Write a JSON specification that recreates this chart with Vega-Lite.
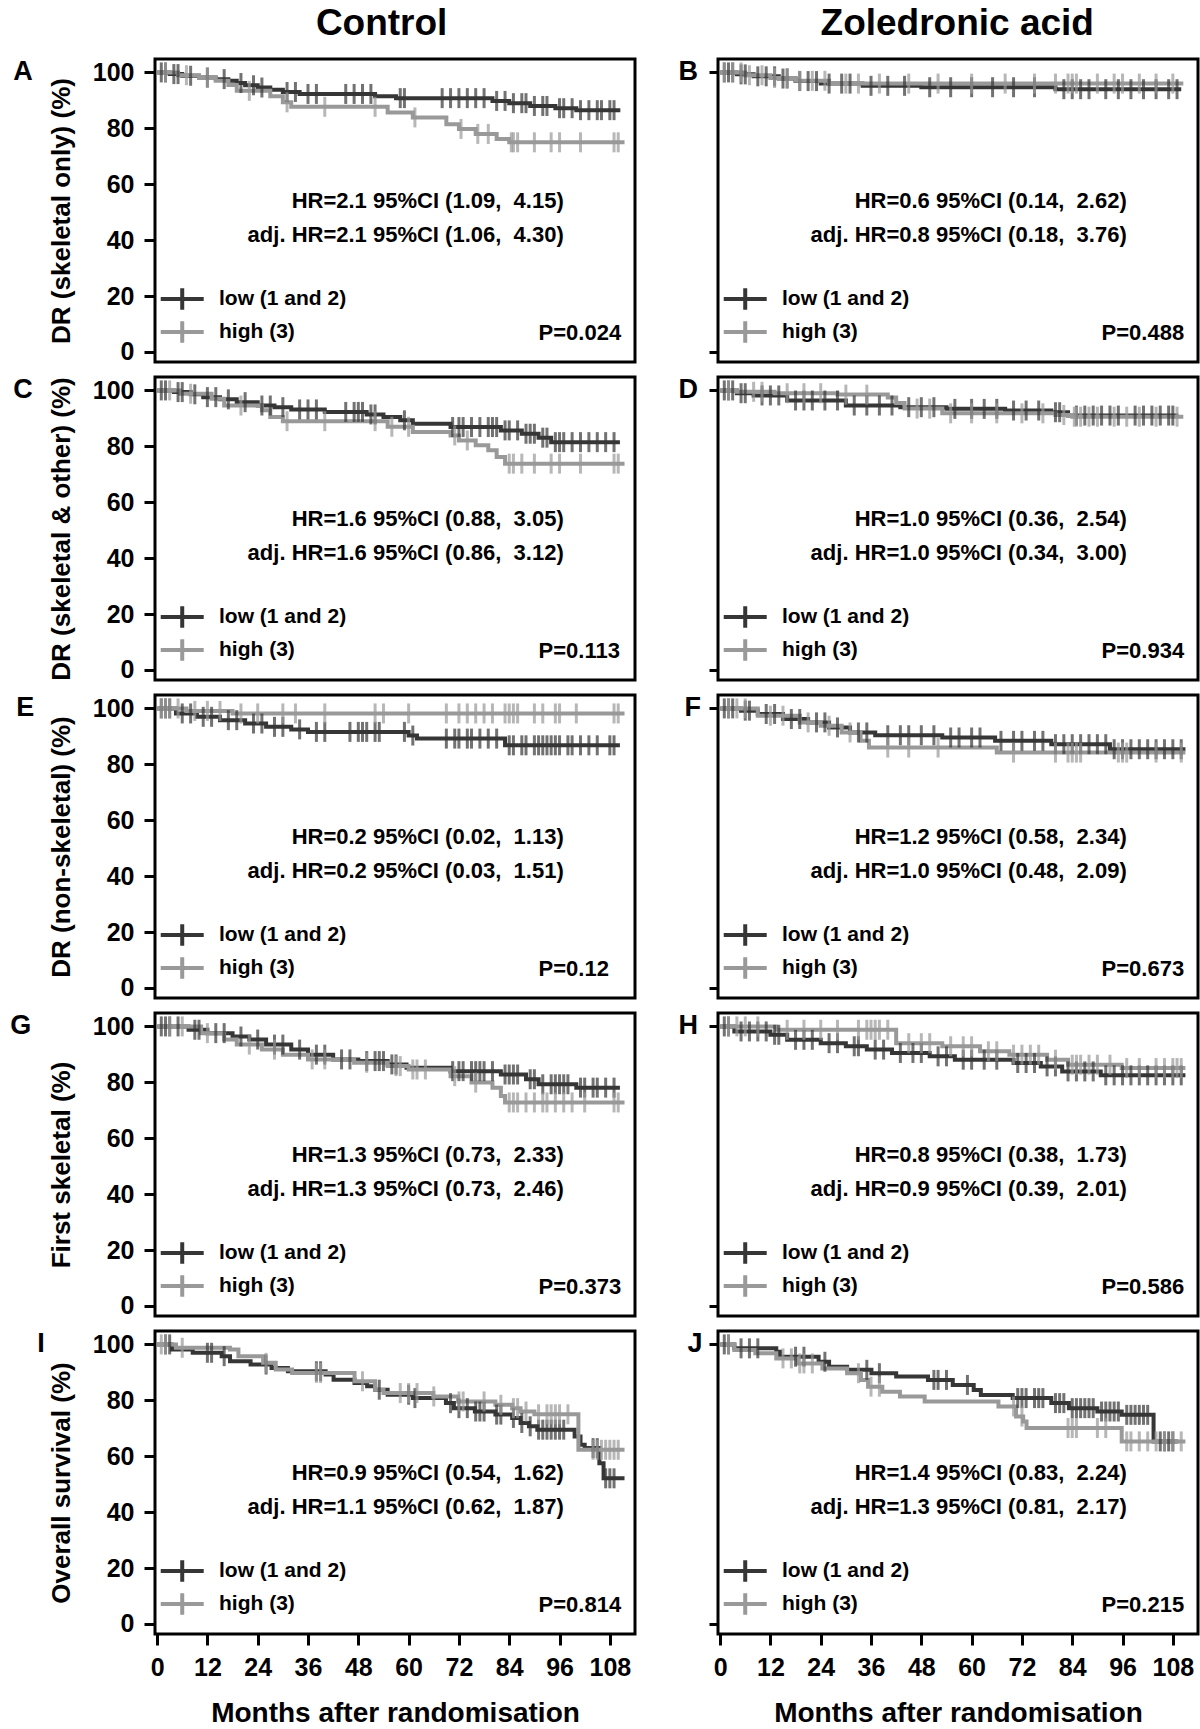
{
"$schema":"https://vega.github.io/schema/vega-lite/v6.json",
"background":"white",
"padding":{"left":8,"top":4,"right":4,"bottom":4},
"config":{
 "font":"Liberation Sans",
 "view":{"stroke":"black","strokeWidth":3},
 "axis":{"domain":false,"grid":false,"tickColor":"black","tickWidth":3,"tickSize":11,"labelFont":"Liberation Sans","labelFontSize":25,"labelFontWeight":"bold","labelColor":"black","labelPadding":10,"titleFont":"Liberation Sans","titleFontSize":26,"titleFontWeight":"bold","titleColor":"black","titlePadding":18},
 "axisX":{"labelPadding":10,"titleFontSize":28,"titlePadding":19},
 "legend":{"orient":"bottom-left","offset":11,"padding":0,"symbolType":"M-1.7,0H2.3M0.3,-1V1","symbolSize":462,"symbolStrokeWidth":4,"labelFont":"Liberation Sans","labelFontSize":21,"labelFontWeight":"bold","labelColor":"black","labelOffset":27,"rowPadding":-5},
 "title":{"orient":"left","anchor":"end","angle":0,"align":"right","baseline":"middle","fontSize":27,"fontWeight":"bold","font":"Liberation Sans","color":"black","offset":-4,"dy":0},
 "line":{"interpolate":"step-after","strokeWidth":4}
},
"datasets":{
"ann":[
{"p":"A","hr":"HR=2.1 95%CI (1.09, \u00a04.15)","adj":"adj. HR=2.1 95%CI (1.06, \u00a04.30)","pv":"P=0.024"},
{"p":"B","hr":"HR=0.6 95%CI (0.14, \u00a02.62)","adj":"adj. HR=0.8 95%CI (0.18, \u00a03.76)","pv":"P=0.488"},
{"p":"C","hr":"HR=1.6 95%CI (0.88, \u00a03.05)","adj":"adj. HR=1.6 95%CI (0.86, \u00a03.12)","pv":"P=0.113"},
{"p":"D","hr":"HR=1.0 95%CI (0.36, \u00a02.54)","adj":"adj. HR=1.0 95%CI (0.34, \u00a03.00)","pv":"P=0.934"},
{"p":"E","hr":"HR=0.2 95%CI (0.02, \u00a01.13)","adj":"adj. HR=0.2 95%CI (0.03, \u00a01.51)","pv":"P=0.12"},
{"p":"F","hr":"HR=1.2 95%CI (0.58, \u00a02.34)","adj":"adj. HR=1.0 95%CI (0.48, \u00a02.09)","pv":"P=0.673"},
{"p":"G","hr":"HR=1.3 95%CI (0.73, \u00a02.33)","adj":"adj. HR=1.3 95%CI (0.73, \u00a02.46)","pv":"P=0.373"},
{"p":"H","hr":"HR=0.8 95%CI (0.38, \u00a01.73)","adj":"adj. HR=0.9 95%CI (0.39, \u00a02.01)","pv":"P=0.586"},
{"p":"I","hr":"HR=0.9 95%CI (0.54, \u00a01.62)","adj":"adj. HR=1.1 95%CI (0.62, \u00a01.87)","pv":"P=0.814"},
{"p":"J","hr":"HR=1.4 95%CI (0.83, \u00a02.24)","adj":"adj. HR=1.3 95%CI (0.81, \u00a02.17)","pv":"P=0.215"}
],
"A":[
{"g":"L","t":0,"s":100},{"g":"L","t":3,"s":99.4},{"g":"L","t":6,"s":98.8},{"g":"L","t":10,"s":98.2},{"g":"L","t":14,"s":97.6},{"g":"L","t":17,"s":97},{"g":"L","t":19,"s":96.2},{"g":"L","t":21,"s":95.4},{"g":"L","t":24,"s":94.6},{"g":"L","t":27,"s":93.8},{"g":"L","t":30,"s":93},{"g":"L","t":34,"s":92.3},{"g":"L","t":52,"s":91.5},{"g":"L","t":57,"s":90.8},{"g":"L","t":80,"s":89.8},{"g":"L","t":84,"s":89},{"g":"L","t":89,"s":88},{"g":"L","t":95,"s":87.2},{"g":"L","t":100,"s":86.5},{"g":"L","t":110.5,"s":86.5},
{"g":"H","t":0,"s":100},{"g":"H","t":5,"s":99},{"g":"H","t":10,"s":98},{"g":"H","t":14,"s":97},{"g":"H","t":17,"s":95.5},{"g":"H","t":19,"s":93.4},{"g":"H","t":27,"s":91.5},{"g":"H","t":30,"s":89.3},{"g":"H","t":32,"s":87.7},{"g":"H","t":55,"s":85.7},{"g":"H","t":61,"s":83.9},{"g":"H","t":69,"s":81.5},{"g":"H","t":72,"s":79.8},{"g":"H","t":76,"s":78},{"g":"H","t":81,"s":76.2},{"g":"H","t":84,"s":75},{"g":"H","t":111.5,"s":75}
],
"Ac":[
{"g":"L","t":1,"s":100},{"g":"L","t":2,"s":100},{"g":"L","t":4,"s":99.4},{"g":"L","t":5,"s":99.4},{"g":"L","t":8,"s":98.8},{"g":"L","t":12,"s":98.2},{"g":"L","t":16,"s":97.6},{"g":"L","t":20,"s":96.2},{"g":"L","t":23,"s":95.4},{"g":"L","t":25,"s":94.6},{"g":"L","t":31,"s":93},{"g":"L","t":33,"s":93},{"g":"L","t":36,"s":92.3},{"g":"L","t":38,"s":92.3},{"g":"L","t":45,"s":92.3},{"g":"L","t":47,"s":92.3},{"g":"L","t":49,"s":92.3},{"g":"L","t":51,"s":92.3},{"g":"L","t":58,"s":90.8},{"g":"L","t":59,"s":90.8},{"g":"L","t":68,"s":90.8},{"g":"L","t":70,"s":90.8},{"g":"L","t":72,"s":90.8},{"g":"L","t":74,"s":90.8},{"g":"L","t":76,"s":90.8},{"g":"L","t":78,"s":90.8},{"g":"L","t":81,"s":89.8},{"g":"L","t":83,"s":89.8},{"g":"L","t":85,"s":89},{"g":"L","t":87,"s":89},{"g":"L","t":88,"s":89},{"g":"L","t":90,"s":88},{"g":"L","t":92,"s":88},{"g":"L","t":93,"s":88},{"g":"L","t":96,"s":87.2},{"g":"L","t":97,"s":87.2},{"g":"L","t":99,"s":87.2},{"g":"L","t":101,"s":86.5},{"g":"L","t":103,"s":86.5},{"g":"L","t":105,"s":86.5},{"g":"L","t":106,"s":86.5},{"g":"L","t":108,"s":86.5},{"g":"L","t":109,"s":86.5},
{"g":"H","t":2,"s":100},{"g":"H","t":7,"s":99},{"g":"H","t":12,"s":98},{"g":"H","t":22,"s":93.4},{"g":"H","t":31,"s":89.3},{"g":"H","t":40,"s":87.7},{"g":"H","t":52,"s":87.7},{"g":"H","t":61.5,"s":83.9},{"g":"H","t":72.5,"s":79.8},{"g":"H","t":76.5,"s":78},{"g":"H","t":79,"s":78},{"g":"H","t":84.5,"s":75},{"g":"H","t":85,"s":75},{"g":"H","t":86,"s":75},{"g":"H","t":90,"s":75},{"g":"H","t":94,"s":75},{"g":"H","t":96,"s":75},{"g":"H","t":101,"s":75},{"g":"H","t":109,"s":75},{"g":"H","t":110,"s":75}
],
"B":[
{"g":"L","t":0,"s":100},{"g":"L","t":4,"s":99.3},{"g":"L","t":8,"s":98.6},{"g":"L","t":14,"s":97.8},{"g":"L","t":18,"s":96.9},{"g":"L","t":24,"s":96},{"g":"L","t":34,"s":95.2},{"g":"L","t":48,"s":94.7},{"g":"L","t":80,"s":94},{"g":"L","t":110,"s":94},
{"g":"H","t":0,"s":100},{"g":"H","t":6,"s":99},{"g":"H","t":12,"s":98},{"g":"H","t":18,"s":97},{"g":"H","t":26,"s":96},{"g":"H","t":110.5,"s":96}
],
"Bc":[
{"g":"L","t":1,"s":100},{"g":"L","t":2,"s":100},{"g":"L","t":3,"s":100},{"g":"L","t":5,"s":99.3},{"g":"L","t":6,"s":99.3},{"g":"L","t":9,"s":98.6},{"g":"L","t":11,"s":98.6},{"g":"L","t":13,"s":98.6},{"g":"L","t":15,"s":97.8},{"g":"L","t":16,"s":97.8},{"g":"L","t":19,"s":96.9},{"g":"L","t":21,"s":96.9},{"g":"L","t":23,"s":96.9},{"g":"L","t":26,"s":96},{"g":"L","t":29,"s":96},{"g":"L","t":31,"s":96},{"g":"L","t":36,"s":95.2},{"g":"L","t":40,"s":95.2},{"g":"L","t":44,"s":95.2},{"g":"L","t":50,"s":94.7},{"g":"L","t":55,"s":94.7},{"g":"L","t":60,"s":94.7},{"g":"L","t":65,"s":94.7},{"g":"L","t":70,"s":94.7},{"g":"L","t":75,"s":94.7},{"g":"L","t":82,"s":94},{"g":"L","t":84,"s":94},{"g":"L","t":86,"s":94},{"g":"L","t":88,"s":94},{"g":"L","t":92,"s":94},{"g":"L","t":95,"s":94},{"g":"L","t":98,"s":94},{"g":"L","t":101,"s":94},{"g":"L","t":104,"s":94},{"g":"L","t":107,"s":94},{"g":"L","t":109,"s":94},
{"g":"H","t":1,"s":100},{"g":"H","t":3,"s":100},{"g":"H","t":5,"s":100},{"g":"H","t":7,"s":99},{"g":"H","t":10,"s":99},{"g":"H","t":13,"s":98},{"g":"H","t":16,"s":98},{"g":"H","t":19,"s":97},{"g":"H","t":22,"s":97},{"g":"H","t":25,"s":97},{"g":"H","t":30,"s":96},{"g":"H","t":33,"s":96},{"g":"H","t":38,"s":96},{"g":"H","t":45,"s":96},{"g":"H","t":52,"s":96},{"g":"H","t":60,"s":96},{"g":"H","t":68,"s":96},{"g":"H","t":75,"s":96},{"g":"H","t":80,"s":96},{"g":"H","t":83,"s":96},{"g":"H","t":84,"s":96},{"g":"H","t":85,"s":96},{"g":"H","t":90,"s":96},{"g":"H","t":94,"s":96},{"g":"H","t":96,"s":96},{"g":"H","t":100,"s":96},{"g":"H","t":104,"s":96},{"g":"H","t":108,"s":96}
],
"C":[
{"g":"L","t":0,"s":100},{"g":"L","t":4,"s":99.4},{"g":"L","t":8,"s":98.6},{"g":"L","t":11,"s":97.6},{"g":"L","t":15,"s":96.8},{"g":"L","t":19,"s":95.8},{"g":"L","t":24,"s":94.6},{"g":"L","t":28,"s":94},{"g":"L","t":32,"s":93.2},{"g":"L","t":40,"s":92.3},{"g":"L","t":50,"s":91.4},{"g":"L","t":54,"s":90.5},{"g":"L","t":58,"s":89.3},{"g":"L","t":61,"s":88.1},{"g":"L","t":70,"s":86.9},{"g":"L","t":82,"s":85.7},{"g":"L","t":87,"s":84.5},{"g":"L","t":91,"s":83.1},{"g":"L","t":94,"s":81.5},{"g":"L","t":110.4,"s":81.5},
{"g":"H","t":0,"s":100},{"g":"H","t":5.5,"s":98.8},{"g":"H","t":13,"s":97},{"g":"H","t":16,"s":94.6},{"g":"H","t":25,"s":92.9},{"g":"H","t":27,"s":90.5},{"g":"H","t":30,"s":89},{"g":"H","t":55,"s":87},{"g":"H","t":61,"s":85.1},{"g":"H","t":70,"s":83.9},{"g":"H","t":72,"s":82.1},{"g":"H","t":76,"s":80.4},{"g":"H","t":79,"s":78.6},{"g":"H","t":81,"s":76.2},{"g":"H","t":83,"s":73.8},{"g":"H","t":111.5,"s":73.8}
],
"Cc":[
{"g":"L","t":1,"s":100},{"g":"L","t":2,"s":100},{"g":"L","t":5,"s":99.4},{"g":"L","t":6,"s":99.4},{"g":"L","t":9,"s":98.6},{"g":"L","t":12,"s":97.6},{"g":"L","t":14,"s":97.6},{"g":"L","t":17,"s":96.8},{"g":"L","t":21,"s":95.8},{"g":"L","t":25,"s":94.6},{"g":"L","t":27,"s":94.6},{"g":"L","t":30,"s":94},{"g":"L","t":34,"s":93.2},{"g":"L","t":36,"s":93.2},{"g":"L","t":38,"s":93.2},{"g":"L","t":45,"s":92.3},{"g":"L","t":47,"s":92.3},{"g":"L","t":48,"s":92.3},{"g":"L","t":49,"s":92.3},{"g":"L","t":51,"s":91.4},{"g":"L","t":52,"s":91.4},{"g":"L","t":59,"s":89.3},{"g":"L","t":70.5,"s":86.9},{"g":"L","t":72,"s":86.9},{"g":"L","t":73,"s":86.9},{"g":"L","t":75,"s":86.9},{"g":"L","t":77,"s":86.9},{"g":"L","t":79,"s":86.9},{"g":"L","t":80,"s":86.9},{"g":"L","t":81,"s":86.9},{"g":"L","t":83,"s":85.7},{"g":"L","t":84,"s":85.7},{"g":"L","t":86,"s":85.7},{"g":"L","t":88,"s":84.5},{"g":"L","t":89,"s":84.5},{"g":"L","t":90,"s":84.5},{"g":"L","t":92,"s":83.1},{"g":"L","t":93,"s":83.1},{"g":"L","t":95,"s":81.5},{"g":"L","t":96,"s":81.5},{"g":"L","t":97,"s":81.5},{"g":"L","t":99,"s":81.5},{"g":"L","t":101,"s":81.5},{"g":"L","t":103,"s":81.5},{"g":"L","t":105,"s":81.5},{"g":"L","t":107,"s":81.5},{"g":"L","t":109,"s":81.5},
{"g":"H","t":3,"s":100},{"g":"H","t":8,"s":98.8},{"g":"H","t":20,"s":94.6},{"g":"H","t":31,"s":89},{"g":"H","t":40,"s":89},{"g":"H","t":52,"s":89},{"g":"H","t":56,"s":87},{"g":"H","t":60,"s":87},{"g":"H","t":71,"s":83.9},{"g":"H","t":74,"s":82.1},{"g":"H","t":84,"s":73.8},{"g":"H","t":85,"s":73.8},{"g":"H","t":87,"s":73.8},{"g":"H","t":90,"s":73.8},{"g":"H","t":94,"s":73.8},{"g":"H","t":96,"s":73.8},{"g":"H","t":101,"s":73.8},{"g":"H","t":109,"s":73.8},{"g":"H","t":110,"s":73.8}
],
"D":[
{"g":"L","t":0,"s":100},{"g":"L","t":4,"s":99},{"g":"L","t":8,"s":98.2},{"g":"L","t":16,"s":96.4},{"g":"L","t":30,"s":94.6},{"g":"L","t":43,"s":94},{"g":"L","t":54,"s":93.4},{"g":"L","t":68,"s":92.8},{"g":"L","t":79,"s":92.2},{"g":"L","t":83,"s":91},{"g":"L","t":109.3,"s":91},
{"g":"H","t":0,"s":100},{"g":"H","t":4,"s":99.5},{"g":"H","t":13,"s":99},{"g":"H","t":28,"s":98.5},{"g":"H","t":40,"s":97.5},{"g":"H","t":42,"s":95.5},{"g":"H","t":44,"s":93.5},{"g":"H","t":53,"s":91.8},{"g":"H","t":80,"s":91.2},{"g":"H","t":84,"s":90.6},{"g":"H","t":110.5,"s":90.6}
],
"Dc":[
{"g":"L","t":1,"s":100},{"g":"L","t":2,"s":100},{"g":"L","t":3,"s":100},{"g":"L","t":5,"s":99},{"g":"L","t":6,"s":99},{"g":"L","t":10,"s":98.2},{"g":"L","t":12,"s":98.2},{"g":"L","t":14,"s":98.2},{"g":"L","t":18,"s":96.4},{"g":"L","t":20,"s":96.4},{"g":"L","t":22,"s":96.4},{"g":"L","t":25,"s":96.4},{"g":"L","t":28,"s":96.4},{"g":"L","t":32,"s":94.6},{"g":"L","t":35,"s":94.6},{"g":"L","t":38,"s":94.6},{"g":"L","t":41,"s":94.6},{"g":"L","t":45,"s":94},{"g":"L","t":48,"s":94},{"g":"L","t":51,"s":94},{"g":"L","t":56,"s":93.4},{"g":"L","t":60,"s":93.4},{"g":"L","t":63,"s":93.4},{"g":"L","t":66,"s":93.4},{"g":"L","t":70,"s":92.8},{"g":"L","t":73,"s":92.8},{"g":"L","t":76,"s":92.8},{"g":"L","t":80,"s":92.2},{"g":"L","t":81,"s":92.2},{"g":"L","t":85,"s":91},{"g":"L","t":87,"s":91},{"g":"L","t":89,"s":91},{"g":"L","t":91,"s":91},{"g":"L","t":93,"s":91},{"g":"L","t":95,"s":91},{"g":"L","t":99,"s":91},{"g":"L","t":101,"s":91},{"g":"L","t":103,"s":91},{"g":"L","t":105,"s":91},{"g":"L","t":107,"s":91},{"g":"L","t":108,"s":91},
{"g":"H","t":2,"s":100},{"g":"H","t":8,"s":99.5},{"g":"H","t":10,"s":99.5},{"g":"H","t":16,"s":99},{"g":"H","t":20,"s":99},{"g":"H","t":24,"s":99},{"g":"H","t":30,"s":98.5},{"g":"H","t":35,"s":98.5},{"g":"H","t":47,"s":93.5},{"g":"H","t":50,"s":93.5},{"g":"H","t":55,"s":91.8},{"g":"H","t":60,"s":91.8},{"g":"H","t":66,"s":91.8},{"g":"H","t":72,"s":91.8},{"g":"H","t":77,"s":91.8},{"g":"H","t":82,"s":91.2},{"g":"H","t":84.5,"s":90.6},{"g":"H","t":85,"s":90.6},{"g":"H","t":86,"s":90.6},{"g":"H","t":88,"s":90.6},{"g":"H","t":90,"s":90.6},{"g":"H","t":94,"s":90.6},{"g":"H","t":97,"s":90.6},{"g":"H","t":100,"s":90.6},{"g":"H","t":104,"s":90.6},{"g":"H","t":109,"s":90.6}
],
"E":[
{"g":"L","t":0,"s":100},{"g":"L","t":4.5,"s":98.2},{"g":"L","t":9.5,"s":97},{"g":"L","t":15,"s":95.8},{"g":"L","t":21,"s":94.6},{"g":"L","t":26,"s":93.4},{"g":"L","t":32,"s":92.5},{"g":"L","t":36,"s":91.6},{"g":"L","t":60,"s":90.3},{"g":"L","t":62,"s":89.2},{"g":"L","t":83,"s":86.8},{"g":"L","t":110.4,"s":86.8},
{"g":"H","t":0,"s":100},{"g":"H","t":7,"s":99.1},{"g":"H","t":18,"s":98.2},{"g":"H","t":111.5,"s":98.2}
],
"Ec":[
{"g":"L","t":1,"s":100},{"g":"L","t":2,"s":100},{"g":"L","t":3,"s":100},{"g":"L","t":6,"s":98.2},{"g":"L","t":8,"s":98.2},{"g":"L","t":11,"s":97},{"g":"L","t":13,"s":97},{"g":"L","t":17,"s":95.8},{"g":"L","t":19,"s":95.8},{"g":"L","t":23,"s":94.6},{"g":"L","t":25,"s":94.6},{"g":"L","t":28,"s":93.4},{"g":"L","t":30,"s":93.4},{"g":"L","t":34,"s":92.5},{"g":"L","t":38,"s":91.6},{"g":"L","t":40,"s":91.6},{"g":"L","t":46,"s":91.6},{"g":"L","t":48,"s":91.6},{"g":"L","t":49,"s":91.6},{"g":"L","t":50,"s":91.6},{"g":"L","t":52,"s":91.6},{"g":"L","t":53,"s":91.6},{"g":"L","t":59,"s":91.6},{"g":"L","t":61,"s":90.3},{"g":"L","t":69,"s":89.2},{"g":"L","t":71,"s":89.2},{"g":"L","t":72,"s":89.2},{"g":"L","t":74,"s":89.2},{"g":"L","t":75,"s":89.2},{"g":"L","t":77,"s":89.2},{"g":"L","t":79,"s":89.2},{"g":"L","t":81,"s":89.2},{"g":"L","t":84,"s":86.8},{"g":"L","t":85,"s":86.8},{"g":"L","t":87,"s":86.8},{"g":"L","t":88,"s":86.8},{"g":"L","t":90,"s":86.8},{"g":"L","t":91,"s":86.8},{"g":"L","t":92,"s":86.8},{"g":"L","t":93,"s":86.8},{"g":"L","t":94,"s":86.8},{"g":"L","t":95,"s":86.8},{"g":"L","t":96,"s":86.8},{"g":"L","t":98,"s":86.8},{"g":"L","t":99,"s":86.8},{"g":"L","t":101,"s":86.8},{"g":"L","t":103,"s":86.8},{"g":"L","t":105,"s":86.8},{"g":"L","t":108,"s":86.8},{"g":"L","t":109,"s":86.8},
{"g":"H","t":1,"s":100},{"g":"H","t":2,"s":100},{"g":"H","t":3,"s":100},{"g":"H","t":5,"s":100},{"g":"H","t":9,"s":99.1},{"g":"H","t":12,"s":99.1},{"g":"H","t":15,"s":99.1},{"g":"H","t":20,"s":98.2},{"g":"H","t":24,"s":98.2},{"g":"H","t":30,"s":98.2},{"g":"H","t":33,"s":98.2},{"g":"H","t":40,"s":98.2},{"g":"H","t":52,"s":98.2},{"g":"H","t":54,"s":98.2},{"g":"H","t":60,"s":98.2},{"g":"H","t":69,"s":98.2},{"g":"H","t":72,"s":98.2},{"g":"H","t":74,"s":98.2},{"g":"H","t":76,"s":98.2},{"g":"H","t":78,"s":98.2},{"g":"H","t":80,"s":98.2},{"g":"H","t":83,"s":98.2},{"g":"H","t":84,"s":98.2},{"g":"H","t":85,"s":98.2},{"g":"H","t":86,"s":98.2},{"g":"H","t":90,"s":98.2},{"g":"H","t":92,"s":98.2},{"g":"H","t":95,"s":98.2},{"g":"H","t":96,"s":98.2},{"g":"H","t":100,"s":98.2},{"g":"H","t":109,"s":98.2},{"g":"H","t":110,"s":98.2}
],
"F":[
{"g":"L","t":0,"s":100},{"g":"L","t":5,"s":99.2},{"g":"L","t":9,"s":98},{"g":"L","t":15,"s":96.2},{"g":"L","t":21,"s":95},{"g":"L","t":26,"s":93.2},{"g":"L","t":31,"s":91.4},{"g":"L","t":37,"s":90.4},{"g":"L","t":53,"s":89.6},{"g":"L","t":65.6,"s":88.4},{"g":"L","t":79,"s":87.2},{"g":"L","t":93,"s":85.4},{"g":"L","t":111,"s":85.4},
{"g":"H","t":0,"s":100},{"g":"H","t":9,"s":97.4},{"g":"H","t":19,"s":95},{"g":"H","t":24,"s":93.8},{"g":"H","t":29,"s":91.4},{"g":"H","t":33.5,"s":88.4},{"g":"H","t":35.5,"s":86},{"g":"H","t":66,"s":84.2},{"g":"H","t":111,"s":84.2}
],
"Fc":[
{"g":"L","t":1,"s":100},{"g":"L","t":2,"s":100},{"g":"L","t":3,"s":100},{"g":"L","t":6,"s":99.2},{"g":"L","t":7,"s":99.2},{"g":"L","t":11,"s":98},{"g":"L","t":13,"s":98},{"g":"L","t":17,"s":96.2},{"g":"L","t":19,"s":96.2},{"g":"L","t":23,"s":95},{"g":"L","t":25,"s":95},{"g":"L","t":28,"s":93.2},{"g":"L","t":33,"s":91.4},{"g":"L","t":35,"s":91.4},{"g":"L","t":40,"s":90.4},{"g":"L","t":43,"s":90.4},{"g":"L","t":45,"s":90.4},{"g":"L","t":48,"s":90.4},{"g":"L","t":51,"s":90.4},{"g":"L","t":55,"s":89.6},{"g":"L","t":57,"s":89.6},{"g":"L","t":60,"s":89.6},{"g":"L","t":62,"s":89.6},{"g":"L","t":67,"s":88.4},{"g":"L","t":70,"s":88.4},{"g":"L","t":72,"s":88.4},{"g":"L","t":75,"s":88.4},{"g":"L","t":77,"s":88.4},{"g":"L","t":80,"s":87.2},{"g":"L","t":82,"s":87.2},{"g":"L","t":84,"s":87.2},{"g":"L","t":86,"s":87.2},{"g":"L","t":88,"s":87.2},{"g":"L","t":90,"s":87.2},{"g":"L","t":92,"s":87.2},{"g":"L","t":94,"s":85.4},{"g":"L","t":96,"s":85.4},{"g":"L","t":98,"s":85.4},{"g":"L","t":100,"s":85.4},{"g":"L","t":102,"s":85.4},{"g":"L","t":104,"s":85.4},{"g":"L","t":106,"s":85.4},{"g":"L","t":108,"s":85.4},{"g":"L","t":110,"s":85.4},
{"g":"H","t":2,"s":100},{"g":"H","t":4,"s":100},{"g":"H","t":6,"s":100},{"g":"H","t":12,"s":97.4},{"g":"H","t":15,"s":97.4},{"g":"H","t":21,"s":95},{"g":"H","t":26,"s":93.8},{"g":"H","t":31,"s":91.4},{"g":"H","t":40,"s":86},{"g":"H","t":45,"s":86},{"g":"H","t":52,"s":86},{"g":"H","t":70,"s":84.2},{"g":"H","t":80,"s":84.2},{"g":"H","t":83,"s":84.2},{"g":"H","t":84,"s":84.2},{"g":"H","t":85,"s":84.2},{"g":"H","t":86,"s":84.2},{"g":"H","t":95,"s":84.2},{"g":"H","t":96,"s":84.2},{"g":"H","t":97,"s":84.2},{"g":"H","t":104,"s":84.2},{"g":"H","t":110,"s":84.2}
],
"G":[
{"g":"L","t":0,"s":100},{"g":"L","t":7.5,"s":98.8},{"g":"L","t":12,"s":97.6},{"g":"L","t":18,"s":96.4},{"g":"L","t":22,"s":95.3},{"g":"L","t":26,"s":93.5},{"g":"L","t":32,"s":91.7},{"g":"L","t":36,"s":89.9},{"g":"L","t":42,"s":88.2},{"g":"L","t":48,"s":87.6},{"g":"L","t":55,"s":86.4},{"g":"L","t":59.5,"s":85.2},{"g":"L","t":70,"s":84},{"g":"L","t":82,"s":82.8},{"g":"L","t":88,"s":81.1},{"g":"L","t":91,"s":79.3},{"g":"L","t":100,"s":78.1},{"g":"L","t":110.4,"s":78.1},
{"g":"H","t":0,"s":100},{"g":"H","t":10.5,"s":97.6},{"g":"H","t":16,"s":95.3},{"g":"H","t":19,"s":93.5},{"g":"H","t":25,"s":91.7},{"g":"H","t":30,"s":89.9},{"g":"H","t":36,"s":88.2},{"g":"H","t":47,"s":87},{"g":"H","t":55,"s":85.8},{"g":"H","t":60,"s":84.6},{"g":"H","t":70,"s":82.2},{"g":"H","t":75,"s":79.9},{"g":"H","t":80,"s":78.1},{"g":"H","t":82,"s":75.1},{"g":"H","t":83,"s":72.8},{"g":"H","t":111.5,"s":72.8}
],
"Gc":[
{"g":"L","t":1,"s":100},{"g":"L","t":2,"s":100},{"g":"L","t":3,"s":100},{"g":"L","t":5,"s":100},{"g":"L","t":9,"s":98.8},{"g":"L","t":10,"s":98.8},{"g":"L","t":14,"s":97.6},{"g":"L","t":16,"s":97.6},{"g":"L","t":20,"s":96.4},{"g":"L","t":24,"s":95.3},{"g":"L","t":28,"s":93.5},{"g":"L","t":30,"s":93.5},{"g":"L","t":34,"s":91.7},{"g":"L","t":38,"s":89.9},{"g":"L","t":40,"s":89.9},{"g":"L","t":44,"s":88.2},{"g":"L","t":46,"s":88.2},{"g":"L","t":50,"s":87.6},{"g":"L","t":52,"s":87.6},{"g":"L","t":53,"s":87.6},{"g":"L","t":54,"s":87.6},{"g":"L","t":56,"s":86.4},{"g":"L","t":57,"s":86.4},{"g":"L","t":70.5,"s":84},{"g":"L","t":72,"s":84},{"g":"L","t":73,"s":84},{"g":"L","t":75,"s":84},{"g":"L","t":76,"s":84},{"g":"L","t":77,"s":84},{"g":"L","t":78,"s":84},{"g":"L","t":80,"s":84},{"g":"L","t":83,"s":82.8},{"g":"L","t":84,"s":82.8},{"g":"L","t":85,"s":82.8},{"g":"L","t":86,"s":82.8},{"g":"L","t":89,"s":81.1},{"g":"L","t":90,"s":81.1},{"g":"L","t":92,"s":79.3},{"g":"L","t":94,"s":79.3},{"g":"L","t":95,"s":79.3},{"g":"L","t":96,"s":79.3},{"g":"L","t":97,"s":79.3},{"g":"L","t":98,"s":79.3},{"g":"L","t":101,"s":78.1},{"g":"L","t":102,"s":78.1},{"g":"L","t":104,"s":78.1},{"g":"L","t":105,"s":78.1},{"g":"L","t":107,"s":78.1},{"g":"L","t":109,"s":78.1},
{"g":"H","t":3,"s":100},{"g":"H","t":6,"s":100},{"g":"H","t":12,"s":97.6},{"g":"H","t":22,"s":93.5},{"g":"H","t":28,"s":91.7},{"g":"H","t":37,"s":88.2},{"g":"H","t":40,"s":88.2},{"g":"H","t":50,"s":87},{"g":"H","t":57,"s":85.8},{"g":"H","t":58,"s":85.8},{"g":"H","t":61,"s":84.6},{"g":"H","t":62,"s":84.6},{"g":"H","t":64,"s":84.6},{"g":"H","t":71,"s":82.2},{"g":"H","t":76,"s":79.9},{"g":"H","t":84,"s":72.8},{"g":"H","t":85,"s":72.8},{"g":"H","t":86,"s":72.8},{"g":"H","t":88,"s":72.8},{"g":"H","t":90,"s":72.8},{"g":"H","t":92,"s":72.8},{"g":"H","t":93,"s":72.8},{"g":"H","t":95,"s":72.8},{"g":"H","t":97,"s":72.8},{"g":"H","t":99,"s":72.8},{"g":"H","t":102,"s":72.8},{"g":"H","t":109,"s":72.8},{"g":"H","t":110,"s":72.8}
],
"H":[
{"g":"L","t":0,"s":100},{"g":"L","t":3.4,"s":98.2},{"g":"L","t":12,"s":97},{"g":"L","t":16,"s":95.2},{"g":"L","t":24,"s":94},{"g":"L","t":30,"s":92.9},{"g":"L","t":35,"s":91.7},{"g":"L","t":41,"s":90.5},{"g":"L","t":50,"s":89.3},{"g":"L","t":56,"s":88.1},{"g":"L","t":70,"s":86.9},{"g":"L","t":76.5,"s":85.7},{"g":"L","t":81.6,"s":83.9},{"g":"L","t":90.8,"s":82.5},{"g":"L","t":111,"s":82.5},
{"g":"H","t":0,"s":100},{"g":"H","t":13.4,"s":98.8},{"g":"H","t":42,"s":94},{"g":"H","t":53,"s":92.9},{"g":"H","t":62,"s":91.1},{"g":"H","t":69,"s":89.9},{"g":"H","t":78,"s":88.1},{"g":"H","t":83,"s":86.3},{"g":"H","t":95.8,"s":85.1},{"g":"H","t":111,"s":85.1}
],
"Hc":[
{"g":"L","t":1,"s":100},{"g":"L","t":2,"s":100},{"g":"L","t":5,"s":98.2},{"g":"L","t":7,"s":98.2},{"g":"L","t":9,"s":98.2},{"g":"L","t":11,"s":98.2},{"g":"L","t":13,"s":97},{"g":"L","t":14,"s":97},{"g":"L","t":18,"s":95.2},{"g":"L","t":20,"s":95.2},{"g":"L","t":22,"s":95.2},{"g":"L","t":26,"s":94},{"g":"L","t":28,"s":94},{"g":"L","t":32,"s":92.9},{"g":"L","t":33,"s":92.9},{"g":"L","t":37,"s":91.7},{"g":"L","t":39,"s":91.7},{"g":"L","t":43,"s":90.5},{"g":"L","t":46,"s":90.5},{"g":"L","t":48,"s":90.5},{"g":"L","t":52,"s":89.3},{"g":"L","t":54,"s":89.3},{"g":"L","t":58,"s":88.1},{"g":"L","t":60,"s":88.1},{"g":"L","t":63,"s":88.1},{"g":"L","t":66,"s":88.1},{"g":"L","t":71,"s":86.9},{"g":"L","t":73,"s":86.9},{"g":"L","t":75,"s":86.9},{"g":"L","t":78,"s":85.7},{"g":"L","t":80,"s":85.7},{"g":"L","t":83,"s":83.9},{"g":"L","t":85,"s":83.9},{"g":"L","t":87,"s":83.9},{"g":"L","t":89,"s":83.9},{"g":"L","t":92,"s":82.5},{"g":"L","t":94,"s":82.5},{"g":"L","t":96,"s":82.5},{"g":"L","t":98,"s":82.5},{"g":"L","t":100,"s":82.5},{"g":"L","t":102,"s":82.5},{"g":"L","t":104,"s":82.5},{"g":"L","t":106,"s":82.5},{"g":"L","t":108,"s":82.5},{"g":"L","t":110,"s":82.5},
{"g":"H","t":2,"s":100},{"g":"H","t":4,"s":100},{"g":"H","t":6,"s":100},{"g":"H","t":9,"s":100},{"g":"H","t":16,"s":98.8},{"g":"H","t":20,"s":98.8},{"g":"H","t":24,"s":98.8},{"g":"H","t":28,"s":98.8},{"g":"H","t":33,"s":98.8},{"g":"H","t":35,"s":98.8},{"g":"H","t":36,"s":98.8},{"g":"H","t":37,"s":98.8},{"g":"H","t":38,"s":98.8},{"g":"H","t":40,"s":98.8},{"g":"H","t":45,"s":94},{"g":"H","t":48,"s":94},{"g":"H","t":50,"s":94},{"g":"H","t":55,"s":92.9},{"g":"H","t":58,"s":92.9},{"g":"H","t":60,"s":92.9},{"g":"H","t":64,"s":91.1},{"g":"H","t":66,"s":91.1},{"g":"H","t":70,"s":89.9},{"g":"H","t":72,"s":89.9},{"g":"H","t":74,"s":89.9},{"g":"H","t":76,"s":89.9},{"g":"H","t":80,"s":88.1},{"g":"H","t":84,"s":86.3},{"g":"H","t":85,"s":86.3},{"g":"H","t":86,"s":86.3},{"g":"H","t":88,"s":86.3},{"g":"H","t":90,"s":86.3},{"g":"H","t":93,"s":86.3},{"g":"H","t":97,"s":85.1},{"g":"H","t":100,"s":85.1},{"g":"H","t":104,"s":85.1},{"g":"H","t":106,"s":85.1},{"g":"H","t":108,"s":85.1},{"g":"H","t":109,"s":85.1},{"g":"H","t":110,"s":85.1}
],
"I":[
{"g":"L","t":0,"s":100},{"g":"L","t":3.5,"s":98.2},{"g":"L","t":8.5,"s":97},{"g":"L","t":15.4,"s":95.8},{"g":"L","t":17.4,"s":94},{"g":"L","t":22.3,"s":92.8},{"g":"L","t":27.3,"s":91.6},{"g":"L","t":31.2,"s":90.4},{"g":"L","t":40.2,"s":89.2},{"g":"L","t":42.1,"s":87.4},{"g":"L","t":47.1,"s":86.2},{"g":"L","t":50.1,"s":85},{"g":"L","t":52,"s":83.8},{"g":"L","t":55,"s":82},{"g":"L","t":61,"s":80.8},{"g":"L","t":68.9,"s":79},{"g":"L","t":70.8,"s":77.2},{"g":"L","t":75.8,"s":76},{"g":"L","t":80.7,"s":74.9},{"g":"L","t":84.7,"s":73.7},{"g":"L","t":86.7,"s":71.9},{"g":"L","t":88.7,"s":70.7},{"g":"L","t":90.7,"s":69.5},{"g":"L","t":99.6,"s":67.1},{"g":"L","t":101,"s":64.1},{"g":"L","t":102,"s":62.9},{"g":"L","t":105.5,"s":57.5},{"g":"L","t":106.5,"s":52.1},{"g":"L","t":111.5,"s":52.1},
{"g":"H","t":0,"s":100},{"g":"H","t":4.5,"s":98.8},{"g":"H","t":17.4,"s":98.2},{"g":"H","t":19.4,"s":95.8},{"g":"H","t":25.3,"s":93.4},{"g":"H","t":28.3,"s":91},{"g":"H","t":32.2,"s":89.8},{"g":"H","t":47.1,"s":86.8},{"g":"H","t":52,"s":83.8},{"g":"H","t":54,"s":82.6},{"g":"H","t":65.9,"s":81.4},{"g":"H","t":71.8,"s":79.6},{"g":"H","t":80.7,"s":78.4},{"g":"H","t":84.7,"s":77.2},{"g":"H","t":86.7,"s":76},{"g":"H","t":90,"s":75},{"g":"H","t":100.5,"s":62.3},{"g":"H","t":111.5,"s":62.3}
],
"Ic":[
{"g":"L","t":2,"s":100},{"g":"L","t":3,"s":100},{"g":"L","t":12,"s":97},{"g":"L","t":13,"s":97},{"g":"L","t":16,"s":95.8},{"g":"L","t":26,"s":92.8},{"g":"L","t":38,"s":90.4},{"g":"L","t":39,"s":90.4},{"g":"L","t":53,"s":83.8},{"g":"L","t":60,"s":82},{"g":"L","t":61.5,"s":80.8},{"g":"L","t":70,"s":79},{"g":"L","t":72,"s":77.2},{"g":"L","t":74,"s":77.2},{"g":"L","t":76,"s":76},{"g":"L","t":77,"s":76},{"g":"L","t":78,"s":76},{"g":"L","t":81,"s":74.9},{"g":"L","t":82,"s":74.9},{"g":"L","t":85,"s":73.7},{"g":"L","t":87,"s":71.9},{"g":"L","t":89,"s":70.7},{"g":"L","t":91,"s":69.5},{"g":"L","t":92,"s":69.5},{"g":"L","t":93,"s":69.5},{"g":"L","t":94,"s":69.5},{"g":"L","t":95,"s":69.5},{"g":"L","t":96,"s":69.5},{"g":"L","t":97,"s":69.5},{"g":"L","t":104,"s":62.9},{"g":"L","t":105,"s":62.9},{"g":"L","t":107,"s":52.1},{"g":"L","t":108,"s":52.1},{"g":"L","t":109,"s":52.1},
{"g":"H","t":1,"s":100},{"g":"H","t":2,"s":100},{"g":"H","t":6,"s":98.8},{"g":"H","t":26,"s":93.4},{"g":"H","t":38,"s":89.8},{"g":"H","t":39,"s":89.8},{"g":"H","t":49,"s":86.8},{"g":"H","t":58,"s":82.6},{"g":"H","t":60,"s":82.6},{"g":"H","t":62,"s":82.6},{"g":"H","t":66,"s":81.4},{"g":"H","t":72,"s":79.6},{"g":"H","t":73,"s":79.6},{"g":"H","t":78,"s":79.6},{"g":"H","t":82,"s":78.4},{"g":"H","t":85,"s":77.2},{"g":"H","t":86,"s":77.2},{"g":"H","t":88,"s":76},{"g":"H","t":91,"s":75},{"g":"H","t":93,"s":75},{"g":"H","t":94,"s":75},{"g":"H","t":95,"s":75},{"g":"H","t":96,"s":75},{"g":"H","t":98,"s":75},{"g":"H","t":104,"s":62.3},{"g":"H","t":105,"s":62.3},{"g":"H","t":106,"s":62.3},{"g":"H","t":107,"s":62.3},{"g":"H","t":108,"s":62.3},{"g":"H","t":109,"s":62.3},{"g":"H","t":110,"s":62.3}
],
"J":[
{"g":"L","t":0,"s":100},{"g":"L","t":3.4,"s":98.6},{"g":"L","t":13.4,"s":97.4},{"g":"L","t":14.3,"s":95.6},{"g":"L","t":23.5,"s":93.8},{"g":"L","t":26,"s":92},{"g":"L","t":30.3,"s":90.9},{"g":"L","t":36.1,"s":89.7},{"g":"L","t":42,"s":88.5},{"g":"L","t":49.6,"s":87.3},{"g":"L","t":55.5,"s":85.5},{"g":"L","t":60.5,"s":83.7},{"g":"L","t":62.2,"s":81.9},{"g":"L","t":69.8,"s":80.8},{"g":"L","t":79,"s":79},{"g":"L","t":83.2,"s":77.2},{"g":"L","t":90,"s":76},{"g":"L","t":95.8,"s":74.8},{"g":"L","t":103.4,"s":65.3},{"g":"L","t":109.3,"s":65.3},
{"g":"H","t":0,"s":100},{"g":"H","t":3.4,"s":98},{"g":"H","t":8.4,"s":96.8},{"g":"H","t":13.4,"s":95},{"g":"H","t":18.5,"s":93.2},{"g":"H","t":24.4,"s":91.4},{"g":"H","t":30.3,"s":89.7},{"g":"H","t":33.6,"s":87.3},{"g":"H","t":35.3,"s":84.9},{"g":"H","t":38.7,"s":83.1},{"g":"H","t":42.9,"s":81.4},{"g":"H","t":48.8,"s":79.6},{"g":"H","t":66.4,"s":77.8},{"g":"H","t":70.6,"s":74.2},{"g":"H","t":72.3,"s":72.4},{"g":"H","t":73.1,"s":70.1},{"g":"H","t":95.8,"s":65.3},{"g":"H","t":111,"s":65.3}
],
"Jc":[
{"g":"L","t":1,"s":100},{"g":"L","t":2,"s":100},{"g":"L","t":5,"s":98.6},{"g":"L","t":7,"s":98.6},{"g":"L","t":9,"s":98.6},{"g":"L","t":18,"s":95.6},{"g":"L","t":20,"s":95.6},{"g":"L","t":25,"s":93.8},{"g":"L","t":35,"s":90.9},{"g":"L","t":38,"s":89.7},{"g":"L","t":51,"s":87.3},{"g":"L","t":52,"s":87.3},{"g":"L","t":54,"s":87.3},{"g":"L","t":59,"s":85.5},{"g":"L","t":71,"s":80.8},{"g":"L","t":72,"s":80.8},{"g":"L","t":73,"s":80.8},{"g":"L","t":75,"s":80.8},{"g":"L","t":76,"s":80.8},{"g":"L","t":77,"s":80.8},{"g":"L","t":80,"s":79},{"g":"L","t":81,"s":79},{"g":"L","t":82,"s":79},{"g":"L","t":84,"s":77.2},{"g":"L","t":85,"s":77.2},{"g":"L","t":86,"s":77.2},{"g":"L","t":87,"s":77.2},{"g":"L","t":88,"s":77.2},{"g":"L","t":89,"s":77.2},{"g":"L","t":91,"s":76},{"g":"L","t":92,"s":76},{"g":"L","t":93,"s":76},{"g":"L","t":94,"s":76},{"g":"L","t":95,"s":76},{"g":"L","t":97,"s":74.8},{"g":"L","t":98,"s":74.8},{"g":"L","t":99,"s":74.8},{"g":"L","t":100,"s":74.8},{"g":"L","t":101,"s":74.8},{"g":"L","t":102,"s":74.8},{"g":"L","t":105,"s":65.3},{"g":"L","t":106,"s":65.3},{"g":"L","t":107,"s":65.3},{"g":"L","t":108,"s":65.3},
{"g":"H","t":2,"s":100},{"g":"H","t":15,"s":95},{"g":"H","t":17,"s":95},{"g":"H","t":19,"s":93.2},{"g":"H","t":20,"s":93.2},{"g":"H","t":22,"s":93.2},{"g":"H","t":33,"s":89.7},{"g":"H","t":36,"s":84.9},{"g":"H","t":38,"s":84.9},{"g":"H","t":70,"s":77.8},{"g":"H","t":72,"s":74.2},{"g":"H","t":83,"s":70.1},{"g":"H","t":84,"s":70.1},{"g":"H","t":85,"s":70.1},{"g":"H","t":90,"s":70.1},{"g":"H","t":92,"s":70.1},{"g":"H","t":97,"s":65.3},{"g":"H","t":98,"s":65.3},{"g":"H","t":100,"s":65.3},{"g":"H","t":102,"s":65.3},{"g":"H","t":104,"s":65.3},{"g":"H","t":106,"s":65.3},{"g":"H","t":108,"s":65.3},{"g":"H","t":110,"s":65.3}
]
},
"hconcat":[
{"title":{"text":"Control","orient":"top","anchor":"middle","align":"center","baseline":"alphabetic","fontSize":37,"offset":-15,"dy":0,"dx":59},
 "spacing":15,"bounds":"flush","resolve":{"scale":{"color":"independent"}},
 "vconcat":[
 {"width":480,"height":303,"title":"A","layer":[
   {"data":{"name":"A"},"mark":"line","encoding":{"x":{"field":"t","type":"quantitative","scale":{"domain":[-0.5,114],"nice":false,"zero":false},"axis":null},"y":{"field":"s","type":"quantitative","scale":{"domain":[-3.6,104.8],"nice":false,"zero":false},"axis":{"values":[0,20,40,60,80,100],"title":"DR (skeletal only) (%)"}},"color":{"field":"g","type":"nominal","scale":{"domain":["L","H"],"range":["#363636","#999999"]},"legend":{"title":null,"labelExpr":"datum.label=='L'?'low (1 and 2)':'high (3)'"}}}},
   {"data":{"name":"Ac"},"mark":{"type":"tick","orient":"vertical","size":20,"thickness":3},"encoding":{"x":{"field":"t","type":"quantitative"},"y":{"field":"s","type":"quantitative"},"color":{"field":"g","type":"nominal","legend":null}}},
   {"data":{"name":"ann"},"transform":[{"filter":"datum.p=='A'"}],"mark":{"type":"text","align":"right","baseline":"middle","fontSize":22,"fontWeight":"bold","color":"black"},"encoding":{"x":{"datum":97,"type":"quantitative"},"y":{"datum":54,"type":"quantitative"},"text":{"field":"hr"}}},
   {"data":{"name":"ann"},"transform":[{"filter":"datum.p=='A'"}],"mark":{"type":"text","align":"right","baseline":"middle","fontSize":22,"fontWeight":"bold","color":"black"},"encoding":{"x":{"datum":97,"type":"quantitative"},"y":{"datum":42,"type":"quantitative"},"text":{"field":"adj"}}},
   {"data":{"name":"ann"},"transform":[{"filter":"datum.p=='A'"}],"mark":{"type":"text","align":"left","baseline":"middle","fontSize":22,"fontWeight":"bold","color":"black"},"encoding":{"x":{"datum":91,"type":"quantitative"},"y":{"datum":6.7,"type":"quantitative"},"text":{"field":"pv"}}}
  ]},
 {"width":480,"height":303,"title":"C","layer":[
   {"data":{"name":"C"},"mark":"line","encoding":{"x":{"field":"t","type":"quantitative","scale":{"domain":[-0.5,114],"nice":false,"zero":false},"axis":null},"y":{"field":"s","type":"quantitative","scale":{"domain":[-3.6,104.8],"nice":false,"zero":false},"axis":{"values":[0,20,40,60,80,100],"title":"DR (skeletal & other) (%)"}},"color":{"field":"g","type":"nominal","scale":{"domain":["L","H"],"range":["#363636","#999999"]},"legend":{"title":null,"labelExpr":"datum.label=='L'?'low (1 and 2)':'high (3)'"}}}},
   {"data":{"name":"Cc"},"mark":{"type":"tick","orient":"vertical","size":20,"thickness":3},"encoding":{"x":{"field":"t","type":"quantitative"},"y":{"field":"s","type":"quantitative"},"color":{"field":"g","type":"nominal","legend":null}}},
   {"data":{"name":"ann"},"transform":[{"filter":"datum.p=='C'"}],"mark":{"type":"text","align":"right","baseline":"middle","fontSize":22,"fontWeight":"bold","color":"black"},"encoding":{"x":{"datum":97,"type":"quantitative"},"y":{"datum":54,"type":"quantitative"},"text":{"field":"hr"}}},
   {"data":{"name":"ann"},"transform":[{"filter":"datum.p=='C'"}],"mark":{"type":"text","align":"right","baseline":"middle","fontSize":22,"fontWeight":"bold","color":"black"},"encoding":{"x":{"datum":97,"type":"quantitative"},"y":{"datum":42,"type":"quantitative"},"text":{"field":"adj"}}},
   {"data":{"name":"ann"},"transform":[{"filter":"datum.p=='C'"}],"mark":{"type":"text","align":"left","baseline":"middle","fontSize":22,"fontWeight":"bold","color":"black"},"encoding":{"x":{"datum":91,"type":"quantitative"},"y":{"datum":6.7,"type":"quantitative"},"text":{"field":"pv"}}}
  ]},
 {"width":480,"height":303,"title":"E","layer":[
   {"data":{"name":"E"},"mark":"line","encoding":{"x":{"field":"t","type":"quantitative","scale":{"domain":[-0.5,114],"nice":false,"zero":false},"axis":null},"y":{"field":"s","type":"quantitative","scale":{"domain":[-3.6,104.8],"nice":false,"zero":false},"axis":{"values":[0,20,40,60,80,100],"title":"DR (non-skeletal) (%)"}},"color":{"field":"g","type":"nominal","scale":{"domain":["L","H"],"range":["#363636","#999999"]},"legend":{"title":null,"labelExpr":"datum.label=='L'?'low (1 and 2)':'high (3)'"}}}},
   {"data":{"name":"Ec"},"mark":{"type":"tick","orient":"vertical","size":20,"thickness":3},"encoding":{"x":{"field":"t","type":"quantitative"},"y":{"field":"s","type":"quantitative"},"color":{"field":"g","type":"nominal","legend":null}}},
   {"data":{"name":"ann"},"transform":[{"filter":"datum.p=='E'"}],"mark":{"type":"text","align":"right","baseline":"middle","fontSize":22,"fontWeight":"bold","color":"black"},"encoding":{"x":{"datum":97,"type":"quantitative"},"y":{"datum":54,"type":"quantitative"},"text":{"field":"hr"}}},
   {"data":{"name":"ann"},"transform":[{"filter":"datum.p=='E'"}],"mark":{"type":"text","align":"right","baseline":"middle","fontSize":22,"fontWeight":"bold","color":"black"},"encoding":{"x":{"datum":97,"type":"quantitative"},"y":{"datum":42,"type":"quantitative"},"text":{"field":"adj"}}},
   {"data":{"name":"ann"},"transform":[{"filter":"datum.p=='E'"}],"mark":{"type":"text","align":"left","baseline":"middle","fontSize":22,"fontWeight":"bold","color":"black"},"encoding":{"x":{"datum":91,"type":"quantitative"},"y":{"datum":6.7,"type":"quantitative"},"text":{"field":"pv"}}}
  ]},
 {"width":480,"height":303,"title":"G","layer":[
   {"data":{"name":"G"},"mark":"line","encoding":{"x":{"field":"t","type":"quantitative","scale":{"domain":[-0.5,114],"nice":false,"zero":false},"axis":null},"y":{"field":"s","type":"quantitative","scale":{"domain":[-3.6,104.8],"nice":false,"zero":false},"axis":{"values":[0,20,40,60,80,100],"title":"First skeletal (%)"}},"color":{"field":"g","type":"nominal","scale":{"domain":["L","H"],"range":["#363636","#999999"]},"legend":{"title":null,"labelExpr":"datum.label=='L'?'low (1 and 2)':'high (3)'"}}}},
   {"data":{"name":"Gc"},"mark":{"type":"tick","orient":"vertical","size":20,"thickness":3},"encoding":{"x":{"field":"t","type":"quantitative"},"y":{"field":"s","type":"quantitative"},"color":{"field":"g","type":"nominal","legend":null}}},
   {"data":{"name":"ann"},"transform":[{"filter":"datum.p=='G'"}],"mark":{"type":"text","align":"right","baseline":"middle","fontSize":22,"fontWeight":"bold","color":"black"},"encoding":{"x":{"datum":97,"type":"quantitative"},"y":{"datum":54,"type":"quantitative"},"text":{"field":"hr"}}},
   {"data":{"name":"ann"},"transform":[{"filter":"datum.p=='G'"}],"mark":{"type":"text","align":"right","baseline":"middle","fontSize":22,"fontWeight":"bold","color":"black"},"encoding":{"x":{"datum":97,"type":"quantitative"},"y":{"datum":42,"type":"quantitative"},"text":{"field":"adj"}}},
   {"data":{"name":"ann"},"transform":[{"filter":"datum.p=='G'"}],"mark":{"type":"text","align":"left","baseline":"middle","fontSize":22,"fontWeight":"bold","color":"black"},"encoding":{"x":{"datum":91,"type":"quantitative"},"y":{"datum":6.7,"type":"quantitative"},"text":{"field":"pv"}}}
  ]},
 {"width":480,"height":303,"title":"I","layer":[
   {"data":{"name":"I"},"mark":"line","encoding":{"x":{"field":"t","type":"quantitative","scale":{"domain":[-0.5,114],"nice":false,"zero":false},"axis":{"values":[0,12,24,36,48,60,72,84,96,108],"title":"Months after randomisation"}},"y":{"field":"s","type":"quantitative","scale":{"domain":[-3.6,104.8],"nice":false,"zero":false},"axis":{"values":[0,20,40,60,80,100],"title":"Overall survival (%)"}},"color":{"field":"g","type":"nominal","scale":{"domain":["L","H"],"range":["#363636","#999999"]},"legend":{"title":null,"labelExpr":"datum.label=='L'?'low (1 and 2)':'high (3)'"}}}},
   {"data":{"name":"Ic"},"mark":{"type":"tick","orient":"vertical","size":20,"thickness":3},"encoding":{"x":{"field":"t","type":"quantitative"},"y":{"field":"s","type":"quantitative"},"color":{"field":"g","type":"nominal","legend":null}}},
   {"data":{"name":"ann"},"transform":[{"filter":"datum.p=='I'"}],"mark":{"type":"text","align":"right","baseline":"middle","fontSize":22,"fontWeight":"bold","color":"black"},"encoding":{"x":{"datum":97,"type":"quantitative"},"y":{"datum":54,"type":"quantitative"},"text":{"field":"hr"}}},
   {"data":{"name":"ann"},"transform":[{"filter":"datum.p=='I'"}],"mark":{"type":"text","align":"right","baseline":"middle","fontSize":22,"fontWeight":"bold","color":"black"},"encoding":{"x":{"datum":97,"type":"quantitative"},"y":{"datum":42,"type":"quantitative"},"text":{"field":"adj"}}},
   {"data":{"name":"ann"},"transform":[{"filter":"datum.p=='I'"}],"mark":{"type":"text","align":"left","baseline":"middle","fontSize":22,"fontWeight":"bold","color":"black"},"encoding":{"x":{"datum":91,"type":"quantitative"},"y":{"datum":6.7,"type":"quantitative"},"text":{"field":"pv"}}}
  ]}
 ]},
{"title":{"text":"Zoledronic acid","orient":"top","anchor":"middle","align":"center","baseline":"alphabetic","fontSize":37,"offset":-15,"dy":0,"dx":19},
 "spacing":15,"bounds":"flush","resolve":{"scale":{"color":"independent"}},
 "vconcat":[
 {"width":480,"height":303,"title":{"text":"B","offset":-10},"layer":[
   {"data":{"name":"B"},"mark":"line","encoding":{"x":{"field":"t","type":"quantitative","scale":{"domain":[-0.5,114],"nice":false,"zero":false},"axis":null},"y":{"field":"s","type":"quantitative","scale":{"domain":[-3.6,104.8],"nice":false,"zero":false},"axis":{"values":[0,100],"labels":false,"title":null,"tickSize":9}},"color":{"field":"g","type":"nominal","scale":{"domain":["L","H"],"range":["#363636","#999999"]},"legend":{"title":null,"labelExpr":"datum.label=='L'?'low (1 and 2)':'high (3)'"}}}},
   {"data":{"name":"Bc"},"mark":{"type":"tick","orient":"vertical","size":20,"thickness":3},"encoding":{"x":{"field":"t","type":"quantitative"},"y":{"field":"s","type":"quantitative"},"color":{"field":"g","type":"nominal","legend":null}}},
   {"data":{"name":"ann"},"transform":[{"filter":"datum.p=='B'"}],"mark":{"type":"text","align":"right","baseline":"middle","fontSize":22,"fontWeight":"bold","color":"black"},"encoding":{"x":{"datum":97,"type":"quantitative"},"y":{"datum":54,"type":"quantitative"},"text":{"field":"hr"}}},
   {"data":{"name":"ann"},"transform":[{"filter":"datum.p=='B'"}],"mark":{"type":"text","align":"right","baseline":"middle","fontSize":22,"fontWeight":"bold","color":"black"},"encoding":{"x":{"datum":97,"type":"quantitative"},"y":{"datum":42,"type":"quantitative"},"text":{"field":"adj"}}},
   {"data":{"name":"ann"},"transform":[{"filter":"datum.p=='B'"}],"mark":{"type":"text","align":"left","baseline":"middle","fontSize":22,"fontWeight":"bold","color":"black"},"encoding":{"x":{"datum":91,"type":"quantitative"},"y":{"datum":6.7,"type":"quantitative"},"text":{"field":"pv"}}}
  ]},
 {"width":480,"height":303,"title":{"text":"D","offset":-10},"layer":[
   {"data":{"name":"D"},"mark":"line","encoding":{"x":{"field":"t","type":"quantitative","scale":{"domain":[-0.5,114],"nice":false,"zero":false},"axis":null},"y":{"field":"s","type":"quantitative","scale":{"domain":[-3.6,104.8],"nice":false,"zero":false},"axis":{"values":[0,100],"labels":false,"title":null,"tickSize":9}},"color":{"field":"g","type":"nominal","scale":{"domain":["L","H"],"range":["#363636","#999999"]},"legend":{"title":null,"labelExpr":"datum.label=='L'?'low (1 and 2)':'high (3)'"}}}},
   {"data":{"name":"Dc"},"mark":{"type":"tick","orient":"vertical","size":20,"thickness":3},"encoding":{"x":{"field":"t","type":"quantitative"},"y":{"field":"s","type":"quantitative"},"color":{"field":"g","type":"nominal","legend":null}}},
   {"data":{"name":"ann"},"transform":[{"filter":"datum.p=='D'"}],"mark":{"type":"text","align":"right","baseline":"middle","fontSize":22,"fontWeight":"bold","color":"black"},"encoding":{"x":{"datum":97,"type":"quantitative"},"y":{"datum":54,"type":"quantitative"},"text":{"field":"hr"}}},
   {"data":{"name":"ann"},"transform":[{"filter":"datum.p=='D'"}],"mark":{"type":"text","align":"right","baseline":"middle","fontSize":22,"fontWeight":"bold","color":"black"},"encoding":{"x":{"datum":97,"type":"quantitative"},"y":{"datum":42,"type":"quantitative"},"text":{"field":"adj"}}},
   {"data":{"name":"ann"},"transform":[{"filter":"datum.p=='D'"}],"mark":{"type":"text","align":"left","baseline":"middle","fontSize":22,"fontWeight":"bold","color":"black"},"encoding":{"x":{"datum":91,"type":"quantitative"},"y":{"datum":6.7,"type":"quantitative"},"text":{"field":"pv"}}}
  ]},
 {"width":480,"height":303,"title":{"text":"F","offset":-10},"layer":[
   {"data":{"name":"F"},"mark":"line","encoding":{"x":{"field":"t","type":"quantitative","scale":{"domain":[-0.5,114],"nice":false,"zero":false},"axis":null},"y":{"field":"s","type":"quantitative","scale":{"domain":[-3.6,104.8],"nice":false,"zero":false},"axis":{"values":[0,100],"labels":false,"title":null,"tickSize":9}},"color":{"field":"g","type":"nominal","scale":{"domain":["L","H"],"range":["#363636","#999999"]},"legend":{"title":null,"labelExpr":"datum.label=='L'?'low (1 and 2)':'high (3)'"}}}},
   {"data":{"name":"Fc"},"mark":{"type":"tick","orient":"vertical","size":20,"thickness":3},"encoding":{"x":{"field":"t","type":"quantitative"},"y":{"field":"s","type":"quantitative"},"color":{"field":"g","type":"nominal","legend":null}}},
   {"data":{"name":"ann"},"transform":[{"filter":"datum.p=='F'"}],"mark":{"type":"text","align":"right","baseline":"middle","fontSize":22,"fontWeight":"bold","color":"black"},"encoding":{"x":{"datum":97,"type":"quantitative"},"y":{"datum":54,"type":"quantitative"},"text":{"field":"hr"}}},
   {"data":{"name":"ann"},"transform":[{"filter":"datum.p=='F'"}],"mark":{"type":"text","align":"right","baseline":"middle","fontSize":22,"fontWeight":"bold","color":"black"},"encoding":{"x":{"datum":97,"type":"quantitative"},"y":{"datum":42,"type":"quantitative"},"text":{"field":"adj"}}},
   {"data":{"name":"ann"},"transform":[{"filter":"datum.p=='F'"}],"mark":{"type":"text","align":"left","baseline":"middle","fontSize":22,"fontWeight":"bold","color":"black"},"encoding":{"x":{"datum":91,"type":"quantitative"},"y":{"datum":6.7,"type":"quantitative"},"text":{"field":"pv"}}}
  ]},
 {"width":480,"height":303,"title":{"text":"H","offset":-10},"layer":[
   {"data":{"name":"H"},"mark":"line","encoding":{"x":{"field":"t","type":"quantitative","scale":{"domain":[-0.5,114],"nice":false,"zero":false},"axis":null},"y":{"field":"s","type":"quantitative","scale":{"domain":[-3.6,104.8],"nice":false,"zero":false},"axis":{"values":[0,100],"labels":false,"title":null,"tickSize":9}},"color":{"field":"g","type":"nominal","scale":{"domain":["L","H"],"range":["#363636","#999999"]},"legend":{"title":null,"labelExpr":"datum.label=='L'?'low (1 and 2)':'high (3)'"}}}},
   {"data":{"name":"Hc"},"mark":{"type":"tick","orient":"vertical","size":20,"thickness":3},"encoding":{"x":{"field":"t","type":"quantitative"},"y":{"field":"s","type":"quantitative"},"color":{"field":"g","type":"nominal","legend":null}}},
   {"data":{"name":"ann"},"transform":[{"filter":"datum.p=='H'"}],"mark":{"type":"text","align":"right","baseline":"middle","fontSize":22,"fontWeight":"bold","color":"black"},"encoding":{"x":{"datum":97,"type":"quantitative"},"y":{"datum":54,"type":"quantitative"},"text":{"field":"hr"}}},
   {"data":{"name":"ann"},"transform":[{"filter":"datum.p=='H'"}],"mark":{"type":"text","align":"right","baseline":"middle","fontSize":22,"fontWeight":"bold","color":"black"},"encoding":{"x":{"datum":97,"type":"quantitative"},"y":{"datum":42,"type":"quantitative"},"text":{"field":"adj"}}},
   {"data":{"name":"ann"},"transform":[{"filter":"datum.p=='H'"}],"mark":{"type":"text","align":"left","baseline":"middle","fontSize":22,"fontWeight":"bold","color":"black"},"encoding":{"x":{"datum":91,"type":"quantitative"},"y":{"datum":6.7,"type":"quantitative"},"text":{"field":"pv"}}}
  ]},
 {"width":480,"height":303,"title":{"text":"J","offset":-10},"layer":[
   {"data":{"name":"J"},"mark":"line","encoding":{"x":{"field":"t","type":"quantitative","scale":{"domain":[-0.5,114],"nice":false,"zero":false},"axis":{"values":[0,12,24,36,48,60,72,84,96,108],"title":"Months after randomisation"}},"y":{"field":"s","type":"quantitative","scale":{"domain":[-3.6,104.8],"nice":false,"zero":false},"axis":{"values":[0,100],"labels":false,"title":null,"tickSize":9}},"color":{"field":"g","type":"nominal","scale":{"domain":["L","H"],"range":["#363636","#999999"]},"legend":{"title":null,"labelExpr":"datum.label=='L'?'low (1 and 2)':'high (3)'"}}}},
   {"data":{"name":"Jc"},"mark":{"type":"tick","orient":"vertical","size":20,"thickness":3},"encoding":{"x":{"field":"t","type":"quantitative"},"y":{"field":"s","type":"quantitative"},"color":{"field":"g","type":"nominal","legend":null}}},
   {"data":{"name":"ann"},"transform":[{"filter":"datum.p=='J'"}],"mark":{"type":"text","align":"right","baseline":"middle","fontSize":22,"fontWeight":"bold","color":"black"},"encoding":{"x":{"datum":97,"type":"quantitative"},"y":{"datum":54,"type":"quantitative"},"text":{"field":"hr"}}},
   {"data":{"name":"ann"},"transform":[{"filter":"datum.p=='J'"}],"mark":{"type":"text","align":"right","baseline":"middle","fontSize":22,"fontWeight":"bold","color":"black"},"encoding":{"x":{"datum":97,"type":"quantitative"},"y":{"datum":42,"type":"quantitative"},"text":{"field":"adj"}}},
   {"data":{"name":"ann"},"transform":[{"filter":"datum.p=='J'"}],"mark":{"type":"text","align":"left","baseline":"middle","fontSize":22,"fontWeight":"bold","color":"black"},"encoding":{"x":{"datum":91,"type":"quantitative"},"y":{"datum":6.7,"type":"quantitative"},"text":{"field":"pv"}}}
  ]}
 ]}
],
"spacing":40,
"resolve":{"scale":{"color":"independent"}}
}
